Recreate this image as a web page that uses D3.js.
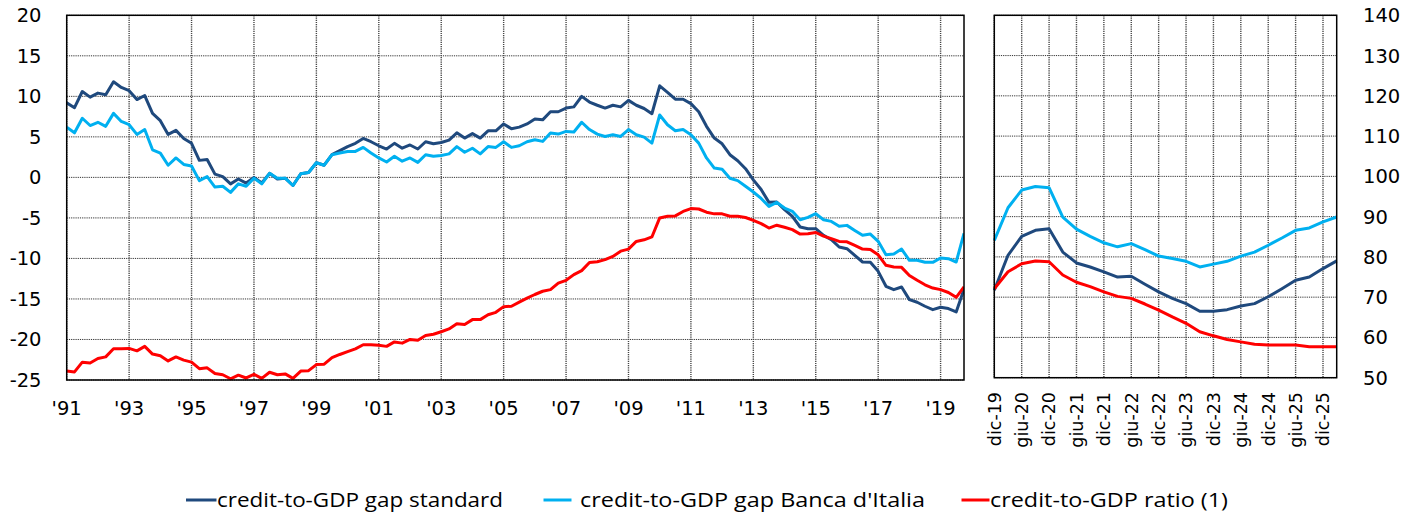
<!DOCTYPE html>
<html>
<head>
<meta charset="utf-8">
<script src="https://cdn.jsdelivr.net/npm/d3@7/dist/d3.min.js"></script>
<style>
  html, body { margin: 0; padding: 0; background: #fff; }
  svg { display: block; }
</style>
</head>
<body>
<svg id="chart" width="1418" height="514"></svg>
<script>
// ---------------- DATA ----------------
// Left panel: quarterly, 1991Q1 .. 2019Q4
const startYear = 1991;
const gapStandard = [
  9.2, 8.6, 10.6, 9.9, 10.4, 10.2, 11.8, 11.1, 10.7, 9.6, 10.1, 7.9, 7.0, 5.3, 5.8, 4.8,
  4.2, 2.1, 2.2, 0.4, 0.1, -0.8, -0.2, -0.7, 0.0, -0.7, 0.5, -0.2, -0.1, -1.0, 0.45, 0.6,
  1.8, 1.5, 2.8, 3.3, 3.8, 4.2, 4.8, 4.4, 3.9, 3.5, 4.2, 3.6, 4.0, 3.5, 4.4, 4.15,
  4.3, 4.6, 5.5, 4.85, 5.4, 4.85, 5.75, 5.75, 6.6, 6.0, 6.2, 6.6, 7.2, 7.1, 8.1, 8.1,
  8.55, 8.7, 10.0, 9.3, 8.9, 8.55, 8.9, 8.7, 9.5, 8.9, 8.5, 7.85, 11.3, 10.5, 9.65, 9.65,
  9.1, 8.1, 6.3, 4.85, 4.15, 2.8, 2.05, 1.07, -0.3, -1.5, -3.08, -3.04, -3.99, -4.81, -6.12, -6.33,
  -6.33, -7.15, -7.69, -8.59, -8.8, -9.62, -10.44, -10.48, -11.59, -13.44, -13.85, -13.52, -15.08, -15.41, -15.9, -16.32,
  -16.03, -16.19, -16.6, -13.8
];
const gapBdI = [
  6.2, 5.5, 7.3, 6.4, 6.8, 6.3, 7.9, 6.9, 6.5, 5.3, 5.9, 3.4, 3.0, 1.5, 2.4, 1.6,
  1.4, -0.4, 0.1, -1.2, -1.1, -1.85, -0.8, -1.1, -0.1, -0.8, 0.5, -0.1, -0.1, -1.0, 0.45, 0.6,
  1.8, 1.5, 2.8, 3.0, 3.2, 3.2, 3.7, 3.0, 2.4, 1.9, 2.6, 2.0, 2.4, 1.85, 2.8, 2.6,
  2.7, 2.9, 3.8, 3.1, 3.6, 2.9, 3.8, 3.7, 4.4, 3.7, 3.9, 4.4, 4.64, 4.44, 5.47, 5.34,
  5.67, 5.6, 6.8, 5.9, 5.34, 5.05, 5.26, 5.05, 5.9, 5.26, 4.97, 4.23, 7.7, 6.5, 5.75, 5.9,
  5.26, 4.23, 2.4, 1.15, 1.0, -0.1, -0.4, -1.1, -1.8, -2.6, -3.58, -3.08, -3.78, -4.19, -5.22, -4.93,
  -4.48, -5.22, -5.43, -6.04, -5.92, -6.54, -7.15, -6.99, -7.89, -9.54, -9.45, -8.84, -10.23, -10.23, -10.48, -10.48,
  -9.95, -10.03, -10.44, -6.9
];
const ratio = [
  52.2, 52.0, 54.4, 54.2, 55.3, 55.7, 57.7, 57.7, 57.8, 57.2, 58.3, 56.4, 56.0, 54.7, 55.7, 54.9,
  54.4, 52.8, 53.0, 51.6, 51.3, 50.3, 51.2, 50.5, 51.4, 50.4, 51.9, 51.3, 51.5, 50.4, 52.2, 52.3,
  53.8, 53.9, 55.5, 56.3, 57.0, 57.7, 58.7, 58.7, 58.6, 58.3, 59.4, 59.1, 60.0, 59.8, 61.0, 61.3,
  61.9, 62.6, 63.9, 63.7, 64.9, 64.9, 66.1, 66.7, 68.1, 68.2, 69.2, 70.2, 71.1, 71.9, 72.3, 73.9,
  74.6, 76.0, 77.0, 79.0, 79.2, 79.7, 80.5, 81.8, 82.3, 84.2, 84.6, 85.3, 90.0, 90.4, 90.5, 91.6,
  92.3, 92.2, 91.4, 91.0, 91.0, 90.4, 90.4, 90.1, 89.4, 88.6, 87.5, 88.2, 87.7, 87.1, 86.0, 86.1,
  86.4, 85.5, 84.9, 84.2, 84.1, 83.2, 82.3, 82.2, 80.9, 78.3, 77.9, 77.8, 75.8, 74.6, 73.5, 72.7,
  72.3, 71.6, 70.4, 73.0
];
const leftTickYears = [1991, 1993, 1995, 1997, 1999, 2001, 2003, 2005, 2007, 2009, 2011, 2013, 2015, 2017, 2019];
const leftYTicks = [20, 15, 10, 5, 0, -5, -10, -15, -20, -25];
const rightYTicks = [140, 130, 120, 110, 100, 90, 80, 70, 60, 50];

// Right panel: quarterly scenario, dic-19 .. mar-26
const quarterCats = [
  "dic-19", "mar-20", "giu-20", "set-20", "dic-20", "mar-21", "giu-21", "set-21", "dic-21",
  "mar-22", "giu-22", "set-22", "dic-22", "mar-23", "giu-23", "set-23", "dic-23",
  "mar-24", "giu-24", "set-24", "dic-24", "mar-25", "giu-25", "set-25", "dic-25", "mar-26"
];
const rightLabels = ["dic-19", "giu-20", "dic-20", "giu-21", "dic-21", "giu-22", "dic-22",
  "giu-23", "dic-23", "giu-24", "dic-24", "giu-25", "dic-25"];
const gapStandardProj = [
  -14.15, -9.8, -7.45, -6.7, -6.5, -9.4, -10.75, -11.25, -11.85, -12.5, -12.4, -13.4, -14.35,
  -15.15, -15.8, -16.75, -16.75, -16.55, -16.1, -15.8, -14.95, -13.95, -12.9, -12.5, -11.45, -10.5
];
const gapBdIProj = [
  -7.95, -3.9, -1.7, -1.25, -1.4, -5.05, -6.55, -7.45, -8.25, -8.75, -8.35, -9.1, -9.9,
  -10.2, -10.55, -11.25, -10.9, -10.55, -9.9, -9.4, -8.55, -7.65, -6.7, -6.4, -5.65, -5.05
];
const ratioProj = [
  72.1, 76.3, 78.3, 79.0, 78.8, 75.5, 73.7, 72.6, 71.3, 70.2, 69.7, 68.3, 66.8,
  65.1, 63.5, 61.4, 60.4, 59.5, 58.9, 58.3, 58.1, 58.1, 58.1, 57.7, 57.7, 57.7
];
const seriesNames = ["credit-to-GDP gap standard", "credit-to-GDP gap Banca d'Italia", "credit-to-GDP ratio (1)"];
const seriesColors = ["#1f497d", "#00b0f0", "#ff0000"];

// ---------------- LAYOUT ----------------
const svg = d3.select("#chart");
const L = { x0: 66.7, x1: 964, y0: 15.3, y1: 380 };
const R = { x0: 994.3, x1: 1336.7, y0: 15.3, y1: 377.7 };
const tickFont = "'DejaVu Sans', Verdana, sans-serif";
const gridStroke = "#333";
const gridDash = "1.2,1";

// ---------------- LEFT PANEL ----------------
const xL = d3.scaleLinear().domain([1991, 2019.75]).range([L.x0, L.x1]);
const yLgap = d3.scaleLinear().domain([-25, 20]).range([L.y1, L.y0]);
const yLratio = d3.scaleLinear().domain([50, 140]).range([L.y1, L.y0]);

const gL = svg.append("g");
gL.selectAll("line.hg").data(leftYTicks).join("line")
  .attr("x1", L.x0).attr("x2", L.x1)
  .attr("y1", d => yLgap(d)).attr("y2", d => yLgap(d))
  .attr("stroke", gridStroke).attr("stroke-width", 1).attr("stroke-dasharray", gridDash);
gL.selectAll("line.vg").data(leftTickYears).join("line")
  .attr("x1", d => xL(d)).attr("x2", d => xL(d))
  .attr("y1", L.y0).attr("y2", L.y1)
  .attr("stroke", "#444").attr("stroke-width", 1.4).attr("stroke-dasharray", gridDash);

gL.selectAll("text.yl").data(leftYTicks).join("text")
  .attr("x", 41.5).attr("y", d => yLgap(d)).attr("dy", "0.36em")
  .attr("text-anchor", "end")
  .style("font-family", tickFont).style("font-size", "19.5px").attr("fill", "#000")
  .text(d => d);
gL.selectAll("text.xl").data(leftTickYears).join("text")
  .attr("x", d => xL(d)).attr("y", 415)
  .attr("text-anchor", "middle")
  .style("font-family", tickFont).style("font-size", "19.5px").attr("fill", "#000")
  .text(d => "'" + String(d).slice(2));

const qx = (d, i) => xL(startYear + i / 4);
const lineGap = d3.line().x(qx).y(d => yLgap(d));
const lineRatio = d3.line().x(qx).y(d => yLratio(d));

function drawLine(g, data, gen, color) {
  g.append("path").datum(data)
    .attr("d", gen).attr("fill", "none")
    .attr("stroke", color).attr("stroke-width", 3)
    .attr("stroke-linejoin", "round").attr("stroke-linecap", "butt");
}
svg.append("clipPath").attr("id", "clipL").append("rect")
  .attr("x", L.x0).attr("y", L.y0 - 5).attr("width", L.x1 - L.x0).attr("height", L.y1 - L.y0 + 10);
const linesL = gL.append("g").attr("clip-path", "url(#clipL)");
drawLine(linesL, gapStandard, lineGap, seriesColors[0]);
drawLine(linesL, gapBdI, lineGap, seriesColors[1]);
drawLine(linesL, ratio, lineRatio, seriesColors[2]);

gL.append("rect").attr("x", L.x0).attr("y", L.y0)
  .attr("width", L.x1 - L.x0).attr("height", L.y1 - L.y0)
  .attr("fill", "none").attr("stroke", "#000").attr("stroke-width", 1.5);

// ---------------- RIGHT PANEL ----------------
const xR = d3.scalePoint().domain(quarterCats).range([R.x0, R.x1]);
const yRratio = d3.scaleLinear().domain([50, 140]).range([R.y1, R.y0]);
const yRgap = d3.scaleLinear().domain([-25, 20]).range([R.y1, R.y0]);

const gR = svg.append("g");
gR.selectAll("line.hg").data(rightYTicks).join("line")
  .attr("x1", R.x0).attr("x2", R.x1)
  .attr("y1", d => yRratio(d)).attr("y2", d => yRratio(d))
  .attr("stroke", gridStroke).attr("stroke-width", 1).attr("stroke-dasharray", gridDash);
gR.selectAll("line.vg").data(rightLabels).join("line")
  .attr("x1", d => xR(d)).attr("x2", d => xR(d))
  .attr("y1", R.y0).attr("y2", R.y1)
  .attr("stroke", "#444").attr("stroke-width", 1.4).attr("stroke-dasharray", gridDash);

gR.selectAll("text.yr").data(rightYTicks).join("text")
  .attr("x", 1363).attr("y", d => yRratio(d)).attr("dy", "0.36em")
  .attr("text-anchor", "start")
  .style("font-family", tickFont).style("font-size", "19.5px").attr("fill", "#000")
  .text(d => d);
gR.selectAll("text.xr").data(rightLabels).join("text")
  .attr("transform", d => `translate(${xR(d)},392) rotate(-90)`)
  .attr("dy", "0.36em")
  .attr("text-anchor", "end")
  .style("font-family", tickFont).style("font-size", "17.5px").attr("fill", "#000")
  .text(d => d);

const lineRgap = d3.line().x((d, i) => xR(quarterCats[i])).y(d => yRgap(d));
const lineRratio = d3.line().x((d, i) => xR(quarterCats[i])).y(d => yRratio(d));
drawLine(gR, gapStandardProj, lineRgap, seriesColors[0]);
drawLine(gR, gapBdIProj, lineRgap, seriesColors[1]);
drawLine(gR, ratioProj, lineRratio, seriesColors[2]);

gR.append("rect").attr("x", R.x0).attr("y", R.y0)
  .attr("width", R.x1 - R.x0).attr("height", R.y1 - R.y0)
  .attr("fill", "none").attr("stroke", "#000").attr("stroke-width", 1.5);

// ---------------- LEGEND ----------------
const legendItems = [
  { sx0: 186, sx1: 216.5, tx: 217, tl: 286 },
  { sx0: 543.5, sx1: 571.5, tx: 580, tl: 345 },
  { sx0: 961.5, sx1: 989.5, tx: 990, tl: 238 }
];
const gLeg = svg.append("g");
legendItems.forEach((it, i) => {
  gLeg.append("line").attr("x1", it.sx0).attr("x2", it.sx1)
    .attr("y1", 500).attr("y2", 500)
    .attr("stroke", seriesColors[i]).attr("stroke-width", 3);
  gLeg.append("text").attr("x", it.tx).attr("y", 507)
    .attr("textLength", it.tl).attr("lengthAdjust", "spacingAndGlyphs")
    .style("font-family", "'Open Sans', 'Noto Sans', sans-serif").style("font-size", "20px")
    .attr("fill", "#000")
    .text(seriesNames[i]);
});
</script>
</body>
</html>
